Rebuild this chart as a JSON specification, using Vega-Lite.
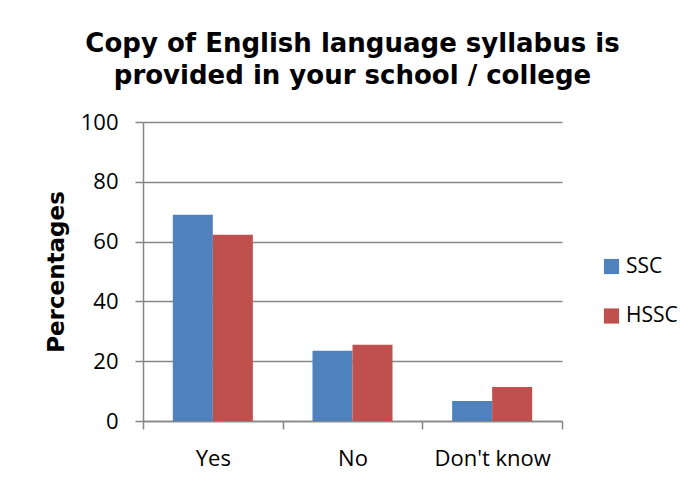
{
  "$schema": "https://vega.github.io/schema/vega-lite/v6.json",
  "width": 419,
  "height": 299,
  "padding": {"left": 45, "top": 31, "right": 5, "bottom": 5},
  "background": "white",
  "title": {
    "text": ["Copy of English language syllabus is", "provided in your school / college"],
    "font": "DejaVu Sans",
    "fontSize": 26,
    "fontWeight": "bold",
    "color": "#000000",
    "anchor": "middle",
    "lineHeight": 32,
    "offset": 22
  },
  "data": {
    "values": [
      {"response": "Yes", "group": "SSC", "pct": 69.0},
      {"response": "Yes", "group": "HSSC", "pct": 62.3},
      {"response": "No", "group": "SSC", "pct": 23.5},
      {"response": "No", "group": "HSSC", "pct": 25.5},
      {"response": "Don't know", "group": "SSC", "pct": 6.7},
      {"response": "Don't know", "group": "HSSC", "pct": 11.4}
    ]
  },
  "mark": {"type": "bar"},
  "encoding": {
    "x": {
      "field": "response",
      "type": "nominal",
      "sort": ["Yes", "No", "Don't know"],
      "scale": {"paddingInner": 0, "paddingOuter": 0},
      "axis": {
        "title": null,
        "labelAngle": 0,
        "labelFont": "Open Sans",
        "labelFontSize": 22,
        "labelColor": "#000000",
        "labelPadding": 19,
        "domainColor": "#868686",
        "domainWidth": 1.5,
        "tickColor": "#868686",
        "tickWidth": 1.5,
        "tickSize": 8,
        "tickBand": "extent",
        "grid": false
      }
    },
    "xOffset": {
      "field": "group",
      "sort": ["SSC", "HSSC"],
      "scale": {"paddingInner": 0, "paddingOuter": 0.745}
    },
    "y": {
      "field": "pct",
      "type": "quantitative",
      "scale": {"domain": [0, 100]},
      "axis": {
        "title": "Percentages",
        "titleFont": "DejaVu Sans",
        "titleFontSize": 23,
        "titleFontWeight": "bold",
        "titleColor": "#000000",
        "titlePadding": 12,
        "values": [0, 20, 40, 60, 80, 100],
        "labelFont": "Open Sans",
        "labelFontSize": 22,
        "labelColor": "#000000",
        "labelPadding": 17,
        "domainColor": "#868686",
        "domainWidth": 1.5,
        "tickColor": "#868686",
        "tickWidth": 1.5,
        "tickSize": 8,
        "gridColor": "#868686",
        "gridWidth": 1.5
      }
    },
    "color": {
      "field": "group",
      "type": "nominal",
      "sort": ["SSC", "HSSC"],
      "scale": {"domain": ["SSC", "HSSC"], "range": ["#4F81BD", "#C0504D"]},
      "legend": {
        "title": null,
        "symbolType": "square",
        "symbolSize": 230,
        "symbolStrokeWidth": 0,
        "labelFont": "Open Sans",
        "labelFontSize": 21,
        "labelColor": "#000000",
        "rowPadding": 27.5,
        "orient": "none",
        "legendX": 458,
        "legendY": 134
      }
    }
  },
  "config": {
    "view": {"stroke": null}
  }
}
